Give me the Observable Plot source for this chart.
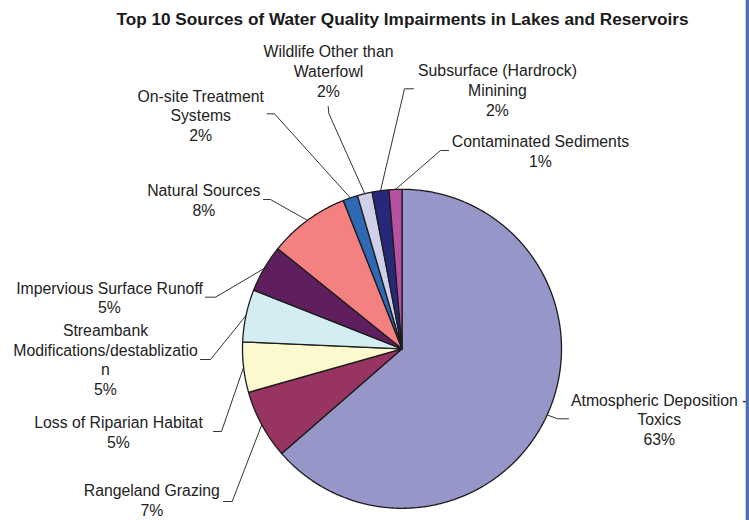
<!DOCTYPE html>
<html>
<head>
<meta charset="utf-8">
<script src="https://cdn.jsdelivr.net/npm/d3@7"></script>
<script src="https://cdn.jsdelivr.net/npm/@observablehq/plot@0.6"></script>
<style>
  html, body { margin: 0; padding: 0; background: #fff; }
  #chart svg { display: block; }
</style>
</head>
<body>
<div id="chart"></div>
<script>
// ---- data ----
const title = "Top 10 Sources of Water Quality Impairments in Lakes and Reservoirs";
const categories = [
  "Atmospheric Deposition - Toxics",
  "Rangeland Grazing",
  "Loss of Riparian Habitat",
  "Streambank Modifications/destablization",
  "Impervious Surface Runoff",
  "Natural Sources",
  "On-site Treatment Systems",
  "Wildlife Other than Waterfowl",
  "Subsurface (Hardrock) Minining",
  "Contaminated Sediments"
];
const values = [63.6, 7.0, 5.1, 5.3, 4.8, 8.2, 1.5, 1.5, 1.7, 1.3];
const percentLabels = ["63%", "7%", "5%", "5%", "5%", "8%", "2%", "2%", "2%", "1%"];
const labelLines = [
  ["Atmospheric Deposition -", "Toxics"],
  ["Rangeland Grazing"],
  ["Loss of Riparian Habitat"],
  ["Streambank", "Modifications/destablizatio", "n"],
  ["Impervious Surface Runoff"],
  ["Natural Sources"],
  ["On-site Treatment", "Systems"],
  ["Wildlife Other than", "Waterfowl"],
  ["Subsurface (Hardrock)", "Minining"],
  ["Contaminated Sediments"]
];

// ---- styles / layout ----
const colors = ["#9696c9", "#983462", "#fdf9cf", "#d4edf3", "#5f1f5f", "#f48080", "#2f69b5", "#cfcfea", "#28287a", "#b752a3"];
const W = 749, H = 520;
const center = [401.5, 348.3];
const radius = 159.5;
const labelXY = [[658.7,418.5],[151.3,499.5],[118,431],[105,358.8],[109,296.7],[203.3,199],[200.2,114.5],[328,70],[497,89],[540,150.3]];
const knees   = [[557,418.3],[231.7,501],[221,431],[210,359],[215,296.7],[270,199],[274,113.3],[328.3,113],[404,88.3],[440,150]];
const ends    = [[568,418.3],[223,501],[213,431],[200,359],[205,296.7],[263,199],[266.7,113.3],[327.7,106],[413,88.3],[448,150]];
const titleXY = [402, 19];
const fontStack = "Liberation Sans, Arial, Helvetica, sans-serif";

// ---- build slices from values ----
const arcs = d3.pie().sort(null).startAngle(0).endAngle(2 * Math.PI)(values);
const pt = (a, r) => [center[0] + r * Math.sin(a), center[1] - r * Math.cos(a)];
const slicePts = [];
arcs.forEach((a, i) => {
  const name = categories[i];
  slicePts.push({name, x: center[0], y: center[1]});
  const n = Math.max(2, Math.ceil((a.endAngle - a.startAngle) / (Math.PI / 360)));
  for (let k = 0; k <= n; k++) {
    const ang = a.startAngle + (a.endAngle - a.startAngle) * k / n;
    const [x, y] = pt(ang, radius);
    slicePts.push({name, x, y});
  }
});

// leader lines: from slice mid-angle on the rim to the label
const leaderPts = [];
arcs.forEach((a, i) => {
  const mid = (a.startAngle + a.endAngle) / 2;
  const [x0, y0] = pt(mid, radius);
  leaderPts.push({i, x: x0, y: y0});
  leaderPts.push({i, x: knees[i][0], y: knees[i][1]});
  leaderPts.push({i, x: ends[i][0], y: ends[i][1]});
});

const labels = categories.map((c, i) => ({
  text: labelLines[i].join("\n") + "\n" + percentLabels[i],
  x: labelXY[i][0], y: labelXY[i][1]
}));

const chart = Plot.plot({
  width: W,
  height: H,
  margin: 0,
  x: {type: "linear", domain: [0, W], range: [0, W], axis: null},
  y: {type: "linear", domain: [0, H], range: [0, H], axis: null},
  color: {domain: categories, range: colors},
  style: {fontFamily: fontStack, background: "#fff", color: "#222"},
  marks: [
    Plot.line(leaderPts, {x: "x", y: "y", z: "i", stroke: "#333", strokeWidth: 1}),
    Plot.line(slicePts, {x: "x", y: "y", z: "name", fill: "name", stroke: "#1c1c1c", strokeWidth: 1.3, curve: "linear-closed", strokeLinejoin: "round"}),
    Plot.text(labels, {x: "x", y: "y", text: "text", fontSize: 15.8, fontFamily: fontStack, lineHeight: 1.25, lineAnchor: "middle", textAnchor: "middle", fill: "#222"}),
    Plot.text([title], {x: () => titleXY[0], y: () => titleXY[1], text: d => d, fontSize: 17.2, fontFamily: fontStack, fontWeight: "bold", textAnchor: "middle", fill: "#1a1a1a"}),
    Plot.ruleX([746.8], {x: d => d, stroke: "#4a6ab6", strokeWidth: 3.2})
  ]
});
document.getElementById("chart").appendChild(chart);
</script>
</body>
</html>
